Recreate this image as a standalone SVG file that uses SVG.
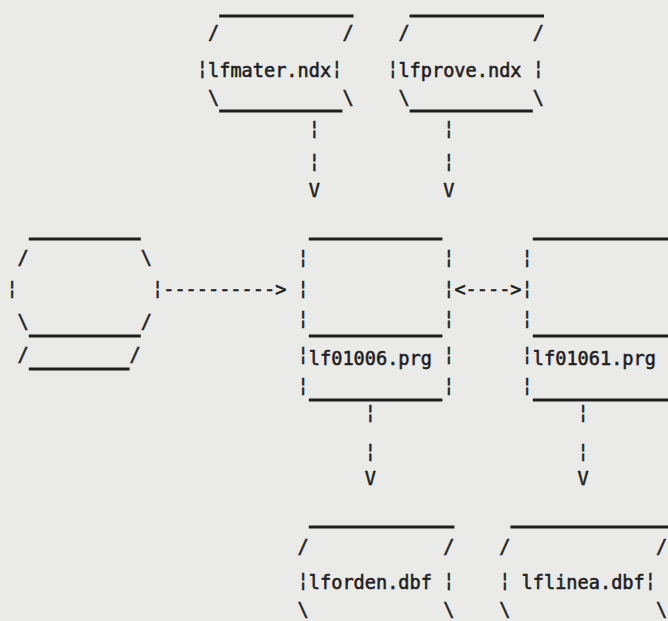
<svg xmlns="http://www.w3.org/2000/svg" width="668" height="621" viewBox="0 0 668 621">
<style>
  .t { font-family: "DejaVu Sans Mono", "Liberation Mono", monospace; font-size: 18.6px; fill: #1e1e1e; stroke: #1e1e1e; stroke-width: 0.55px; }
  .c { text-anchor: middle; }
  .u { stroke: #1e1e1e; stroke-width: 2.8; fill: none; }
</style>
<rect x="0" y="0" width="668" height="621" fill="#eaeae8"/>

<g id="lfmater">
  <line class="u" x1="219.2" y1="16" x2="353.6" y2="16"/>
  <text class="t c" x="213.6" y="39">/</text>
  <text class="t c" x="348" y="39">/</text>
  <text class="t c" x="202.4" y="75">¦</text>
  <text class="t" x="208" y="77">lfmater.ndx</text>
  <text class="t c" x="336.8" y="75">¦</text>
  <text class="t c" x="213.6" y="104">\</text>
  <line class="u" x1="219.2" y1="111" x2="342.4" y2="111"/>
  <text class="t c" x="348" y="104">\</text>
</g>

<g id="lfprove">
  <line class="u" x1="409.6" y1="16" x2="544" y2="16"/>
  <text class="t c" x="404" y="39">/</text>
  <text class="t c" x="538.4" y="39">/</text>
  <text class="t c" x="392.8" y="75">¦</text>
  <text class="t" x="398.4" y="77">lfprove.ndx</text>
  <text class="t c" x="538.4" y="75">¦</text>
  <text class="t c" x="404" y="104">\</text>
  <line class="u" x1="409.6" y1="111" x2="532.8" y2="111"/>
  <text class="t c" x="538.4" y="104">\</text>
</g>

<g id="source">
  <line class="u" x1="28.8" y1="239" x2="140.8" y2="239"/>
  <text class="t c" x="23.2" y="264">/</text>
  <text class="t c" x="146.4" y="264">\</text>
  <text class="t c" x="12" y="295">¦</text>
  <text class="t c" x="157.6" y="295">¦</text>
  <text class="t c" x="23.2" y="328">\</text>
  <text class="t c" x="146.4" y="328">/</text>
  <line class="u" x1="28.8" y1="336" x2="140.8" y2="336"/>
  <text class="t c" x="23.2" y="361">/</text>
  <line class="u" x1="28.8" y1="369" x2="129.6" y2="369"/>
  <text class="t c" x="135.2" y="361">/</text>
</g>

<g id="lf01006">
  <line class="u" x1="308.8" y1="239" x2="442.4" y2="239"/>
  <text class="t c" x="303.2" y="264">¦</text>
  <text class="t c" x="448.8" y="264">¦</text>
  <text class="t c" x="303.2" y="295">¦</text>
  <text class="t c" x="448.8" y="295">¦</text>
  <text class="t c" x="303.2" y="325">¦</text>
  <text class="t c" x="448.8" y="325">¦</text>
  <line class="u" x1="308.8" y1="336" x2="442.4" y2="336"/>
  <text class="t c" x="303.2" y="361">¦</text>
  <text class="t" x="308.8" y="365">lf01006.prg</text>
  <text class="t c" x="448.8" y="361">¦</text>
  <text class="t c" x="303.2" y="392">¦</text>
  <text class="t c" x="448.8" y="392">¦</text>
  <line class="u" x1="308.8" y1="400" x2="442.4" y2="400"/>
</g>

<g id="lf01061">
  <line class="u" x1="532.8" y1="239" x2="668" y2="239"/>
  <text class="t c" x="527.2" y="264">¦</text>
  <text class="t c" x="527.2" y="295">¦</text>
  <text class="t c" x="527.2" y="325">¦</text>
  <line class="u" x1="532.8" y1="336" x2="668" y2="336"/>
  <text class="t c" x="527.2" y="361">¦</text>
  <text class="t" x="532.8" y="365">lf01061.prg</text>
  <text class="t c" x="527.2" y="392">¦</text>
  <line class="u" x1="532.8" y1="400" x2="668" y2="400"/>
</g>

<g id="lforden">
  <line class="u" x1="308.8" y1="527" x2="454.4" y2="527"/>
  <text class="t c" x="303.2" y="553">/</text>
  <text class="t c" x="448.8" y="553">/</text>
  <text class="t c" x="303.2" y="587">¦</text>
  <text class="t" x="308.8" y="589">lforden.dbf</text>
  <text class="t c" x="448.8" y="587">¦</text>
  <text class="t c" x="303.2" y="616">\</text>
  <text class="t c" x="448.8" y="616">\</text>
</g>

<g id="lflinea">
  <line class="u" x1="510.4" y1="527" x2="668" y2="527"/>
  <text class="t c" x="504.8" y="553">/</text>
  <text class="t c" x="661.6" y="553">/</text>
  <text class="t c" x="504.8" y="587">¦</text>
  <text class="t" x="521.6" y="589">lflinea.dbf</text>
  <text class="t c" x="650.4" y="587">¦</text>
  <text class="t c" x="504.8" y="616">\</text>
  <text class="t c" x="661.6" y="616">\</text>
</g>

<g id="connectors">
  <text class="t c" x="314.4" y="135">¦</text>
  <text class="t c" x="314.4" y="168">¦</text>
  <text class="t c" x="314.4" y="197">V</text>
  <text class="t c" x="448.8" y="135">¦</text>
  <text class="t c" x="448.8" y="168">¦</text>
  <text class="t c" x="448.8" y="197">V</text>
  <text class="t" x="163.2" y="296">----------&gt;</text>
  <text class="t" x="454.4" y="296">&lt;----&gt;</text>
  <text class="t c" x="370.4" y="419">¦</text>
  <text class="t c" x="370.4" y="458">¦</text>
  <text class="t c" x="370.4" y="485">V</text>
  <text class="t c" x="583.2" y="419">¦</text>
  <text class="t c" x="583.2" y="458">¦</text>
  <text class="t c" x="583.2" y="485">V</text>
</g>
</svg>
